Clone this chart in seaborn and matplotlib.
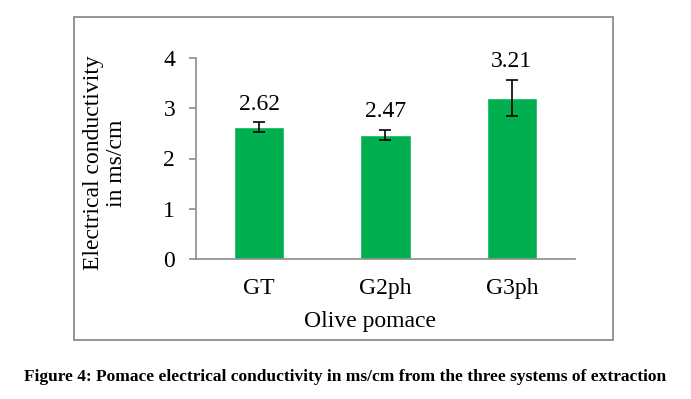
import matplotlib
matplotlib.use("Agg")
import matplotlib.pyplot as plt
import seaborn as sns
import pandas as pd
from matplotlib.patches import Rectangle

# Data
systems = ["GT", "G2ph", "G3ph"]
conductivity = [2.62, 2.47, 3.21]
std_err = [0.10, 0.10, 0.36]

df = pd.DataFrame({"system": systems, "ec": conductivity})

sns.set_style("white")
plt.rcParams["font.family"] = ["Liberation Serif", "DejaVu Serif"]
plt.rcParams["text.color"] = "black"
plt.rcParams["xtick.labelcolor"] = "black"
plt.rcParams["ytick.labelcolor"] = "black"

fig = plt.figure(figsize=(6.91, 3.99), dpi=100)
W, H = 691, 399

# outer chart frame
fig.patches.append(Rectangle((74 / W, 1 - 340 / H), (613 - 74) / W, (340 - 17) / H,
                             transform=fig.transFigure, fill=False,
                             edgecolor="#8c8c8c", linewidth=1.3))

ax = fig.add_axes([196 / W, 1 - 259 / H, (575 - 196) / W, (259 - 58) / H])

sns.barplot(data=df, x="system", y="ec", color="#00B050", width=0.4,
            errorbar=None, saturation=1, ax=ax)
ax.errorbar(range(len(systems)), conductivity, yerr=std_err, fmt="none",
            ecolor="black", elinewidth=1.2, capsize=4.5, capthick=1.2)

# value labels above the error bars
for i, (v, e) in enumerate(zip(conductivity, std_err)):
    ax.annotate(f"{v:.2f}", xy=(i, v + e), xytext=(0, 13), textcoords="offset points",
                ha="center", va="center", fontsize=17, color="black")

ax.set_ylim(0, 4)
ax.set_xlim(-0.5, 2.5)
ax.set_yticks([0, 1, 2, 3, 4])
ax.set_xticks([-0.5, 0.5, 1.5, 2.5], minor=True)
ax.tick_params(axis="x", which="major", length=0, pad=14, labelsize=17, labelcolor="black")
ax.tick_params(axis="x", which="minor", length=6.5, width=1.2, color="#8c8c8c", direction="out")
ax.tick_params(axis="y", length=5, width=1.2, color="#8c8c8c", direction="out",
               pad=10, labelsize=17, left=True, labelcolor="black")
ax.set_xlabel("")
ax.set_ylabel("")

for side in ["top", "right"]:
    ax.spines[side].set_visible(False)
for side in ["left", "bottom"]:
    ax.spines[side].set_color("#8c8c8c")
    ax.spines[side].set_linewidth(1.2)

fig.text(105 / W, 1 - 163 / H, "Electrical conductivity\nin ms/cm", rotation=90,
         ha="center", va="center", multialignment="center", fontsize=17,
         linespacing=1.15, color="black")
fig.text(370 / W, 1 - 322 / H, "Olive pomace", ha="center", va="center",
         fontsize=17, color="black")

fig.text(345 / W, 1 - 377 / H,
         "Figure 4: Pomace electrical conductivity in ms/cm from the three systems of extraction",
         ha="center", va="center", fontsize=12.5, fontweight="bold", color="black")

fig.savefig("out.png", dpi=100)
